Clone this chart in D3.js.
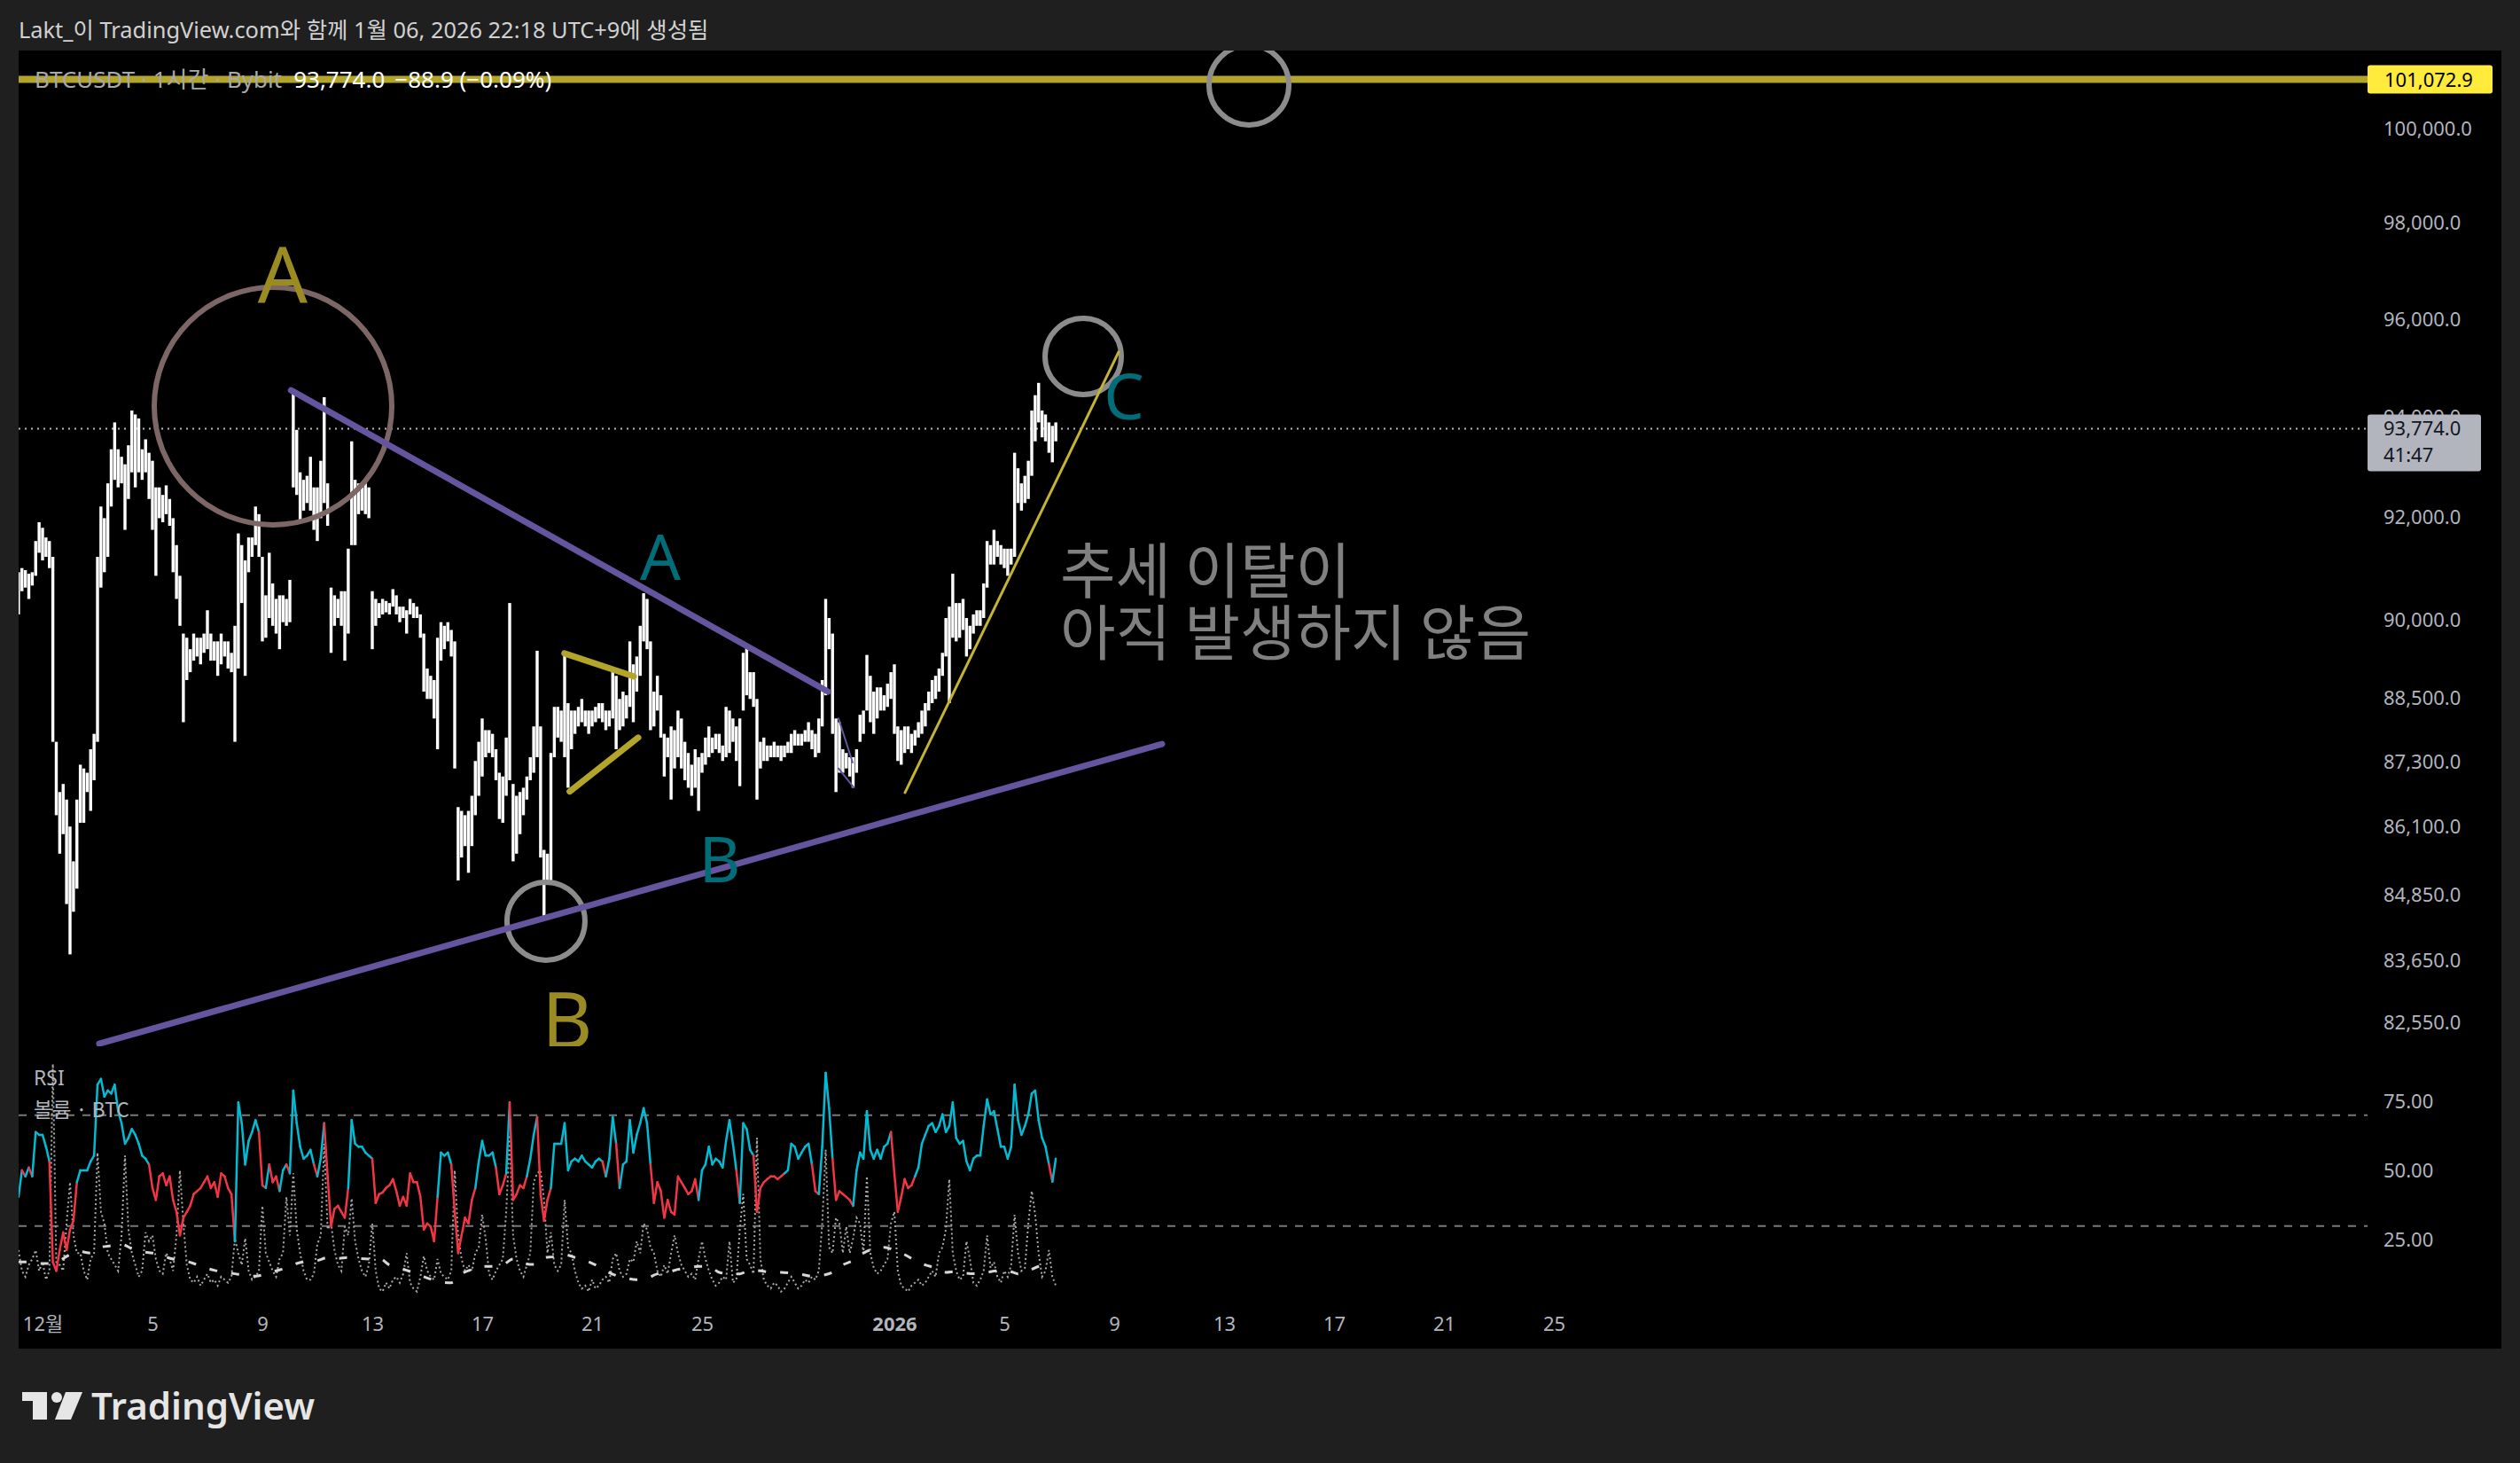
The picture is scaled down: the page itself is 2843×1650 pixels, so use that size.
<!DOCTYPE html>
<html>
<head>
<meta charset="utf-8">
<script src="https://cdn.jsdelivr.net/npm/d3@7"></script>
<style>
  html, body { margin: 0; padding: 0; background: #1f1f1f; }
  svg { display: block; }
</style>
</head>
<body>
<div id="chart"></div>
<script>
//--------------------------------------------------/
//                    DATA
//--------------------------------------------------/

// 3-hour bars, first one Nov 30 03:00
var firstBar = Date.UTC(2025, 10, 30, 3);
var barStep = 3 * 3600 * 1000;

var candleHigh = [
  90930, 91010, 90970, 90900, 90930, 91540, 91910, 91800, 91610, 91540,
  91230, 87680, 86740, 86890, 86600, 86100, 85460, 86600, 87250, 87180,
  87100, 87540, 87830, 91230, 92220, 91990, 92680, 93360, 93900, 93360,
  93210, 93060, 93440, 94140, 94060, 93980, 93360, 93560, 93290, 93130,
  92600, 92600, 92450, 92640, 92370, 91990, 91460, 90860, 89740, 89660,
  89440, 89740, 89660, 89660, 89740, 90190, 89740, 89590, 89590, 89740,
  89590, 89590, 89370, 89890, 91690, 91460, 91160, 91610, 91610, 92220,
  92070, 91230, 90480, 91310, 90710, 90410, 90480, 90480, 90410, 90780,
  94520, 93750, 92900, 92750, 92830, 93210, 92600, 92600, 93130, 94410,
  92680, 90630, 90480, 90410, 90560, 90560, 91390, 93520, 92750, 92680,
  92600, 92680, 92600, 90560, 90410, 90330, 90410, 90370, 90330, 90600,
  90480, 90260, 90260, 90190, 90410, 90330, 90260, 90110, 89740, 89070,
  88930, 88850, 89660, 89960, 89890, 89960, 89810, 89590, 86460, 86390,
  86310, 86390, 86670, 87320, 87680, 88120, 87900, 87900, 87830, 87540,
  87100, 87030, 87760, 90330, 86890, 86670, 86740, 86820, 87030, 87390,
  87970, 89410, 87970, 85670, 85600, 87470, 88340, 88340, 88270, 89370,
  88410, 88270, 88270, 88340, 88490, 88270, 88270, 88270, 88340, 88410,
  88410, 88270, 88270, 89000, 88930, 88490, 88630, 88560, 89590, 89150,
  89300, 89890, 90520, 90410, 89590, 88630, 88930, 88560, 87830, 87760,
  87970, 87900, 88270, 88120, 87680, 87470, 87250, 87540, 87390, 87470,
  87760, 87970, 87760, 87830, 87830, 87610, 88340, 88270, 88120, 87970,
  88120, 89370, 89520, 89000, 89000, 88490, 87680, 87760, 87610, 87610,
  87680, 87610, 87610, 87610, 87680, 87830, 87900, 87830, 87830, 87900,
  88050, 87900, 87830, 88120, 88850, 90410, 90040, 89740, 88120, 88050,
  87540, 87470, 87390, 87390, 87540, 88190, 88270, 89330, 88930, 88630,
  88710, 88710, 88560, 88780, 89000, 89150, 87970, 87900, 87970, 87970,
  87830, 87900, 88050, 88270, 88410, 88630, 88850, 88930, 89070, 89370,
  90040, 90260, 90900, 90330, 90330, 90410, 90040, 89890, 90110, 90190,
  90190, 90710, 91540, 91460, 91760, 91540, 91460, 91390, 91390, 91390,
  93290, 92980, 92680, 92830, 93130, 94140, 94450, 94700, 94140, 94060,
  93900, 93830, 93900
];

var candleLow = [
  90110, 90560, 90630, 90410, 90670, 90860, 91310, 91160, 91230, 91010,
  87680, 86310, 85600, 85960, 84680, 83770, 84540, 84960, 86170, 86170,
  86740, 86390, 86960, 87680, 90630, 90930, 91230, 92220, 92750, 92600,
  92680, 91760, 92370, 92900, 92600, 92900, 92750, 92900, 92370, 91760,
  90860, 91990, 91910, 92070, 91840, 90930, 90410, 89890, 88050, 88850,
  89000, 89220, 89300, 89150, 89370, 89440, 89220, 89220, 88930, 89150,
  89300, 89070, 89000, 87680, 89070, 90330, 88930, 90930, 91230, 91460,
  91230, 89590, 89660, 90040, 89890, 89740, 89440, 89960, 89890, 89960,
  92600, 92450, 91910, 92140, 92290, 92140, 91760, 91540, 91990, 92290,
  91840, 89370, 89890, 90040, 89890, 89220, 89740, 91460, 91460, 92070,
  92140, 92070, 91990, 89440, 89890, 90040, 90110, 90150, 90110, 90260,
  90110, 89960, 90040, 89740, 90110, 90040, 90040, 89660, 88630, 88490,
  88490, 88120, 87540, 89220, 89440, 89590, 89300, 87180, 85110, 85530,
  85740, 85250, 85740, 86310, 86670, 87030, 87390, 87470, 87390, 86960,
  86240, 86170, 86670, 86960, 85460, 85600, 85960, 86310, 86600, 86960,
  87100, 87390, 85530, 84400, 85030, 85110, 87390, 87760, 87680, 87390,
  86820, 87540, 87830, 87970, 88050, 87970, 87830, 87970, 88050, 88120,
  88050, 87900, 87970, 88120, 87540, 87900, 87970, 88120, 88340, 88050,
  88630, 88930, 89590, 89440, 87900, 87970, 88270, 87760, 87030, 87390,
  86600, 87180, 87390, 87180, 86960, 86820, 86670, 86820, 86390, 87100,
  87250, 87390, 87470, 87540, 87470, 87320, 87390, 87470, 87680, 87320,
  86850, 88270, 88560, 88490, 88340, 86600, 87180, 87320, 87320, 87390,
  87390, 87390, 87320, 87390, 87470, 87470, 87610, 87610, 87610, 87680,
  87680, 87540, 87390, 87470, 87970, 88560, 89440, 87830, 86740, 87100,
  87100, 87180, 87030, 86820, 87100, 87680, 87830, 88270, 88050, 87830,
  88120, 88270, 88270, 88340, 88490, 87830, 87320, 87250, 87470, 87540,
  87470, 87610, 87760, 87830, 87970, 88270, 88410, 88490, 88630, 88930,
  89300, 88410, 89660, 89590, 89660, 89810, 89300, 89440, 89740, 89890,
  89890, 90040, 90630, 91080, 91080, 91230, 91080, 91010, 90860, 91080,
  91230, 92290, 92140, 92290, 92370, 92830, 93520, 93900, 93600, 93520,
  93290, 93100, 93520
];

var rsiValues = [
  40.5, 50.1, 47.9, 51.1, 47.9, 63.9, 62.9, 62.9, 58.6, 53.3,
  17.0, 13.8, 21.3, 27.7, 21.3, 28.7, 31.9, 45.8, 50.1, 50.1,
  50.1, 53.3, 55.4, 81.0, 83.1, 76.7, 78.9, 77.8, 81.0, 71.4,
  67.1, 59.7, 61.8, 65.0, 62.9, 59.7, 55.4, 54.3, 52.2, 43.7,
  39.4, 47.9, 49.0, 44.7, 47.9, 39.4, 35.1, 26.6, 33.0, 35.1,
  37.3, 41.5, 42.6, 43.7, 45.8, 47.9, 43.7, 45.8, 40.5, 49.0,
  47.9, 43.7, 41.5, 24.5, 74.6, 67.1, 52.2, 60.7, 63.9, 68.2,
  63.9, 44.7, 43.7, 52.2, 45.8, 47.9, 42.6, 50.1, 52.2, 49.0,
  78.9, 67.1, 58.6, 54.3, 55.4, 57.5, 52.2, 47.9, 54.3, 67.1,
  47.9, 29.8, 36.2, 37.3, 35.1, 33.0, 43.7, 68.2, 59.7, 58.6,
  58.6, 56.5, 55.4, 54.3, 38.3, 41.5, 42.1, 43.7, 44.7, 46.9,
  42.6, 37.3, 40.5, 37.3, 49.0, 45.8, 45.8, 40.5, 28.7, 30.9,
  29.8, 24.5, 40.5, 56.5, 55.4, 56.5, 52.2, 35.1, 20.2, 26.6,
  33.0, 30.9, 39.4, 43.7, 53.3, 60.7, 55.4, 55.4, 56.5, 51.1,
  41.5, 44.7, 49.0, 74.6, 39.4, 41.5, 44.7, 43.7, 47.9, 54.3,
  62.9, 69.3, 41.5, 31.9, 39.4, 43.7, 59.7, 59.7, 59.7, 67.1,
  50.1, 53.3, 54.3, 53.3, 55.4, 53.3, 52.2, 51.1, 53.3, 54.3,
  53.3, 47.9, 54.3, 69.3, 59.7, 43.7, 52.2, 53.3, 68.2, 56.5,
  62.9, 67.1, 72.5, 67.1, 52.2, 38.3, 45.8, 42.6, 33.0, 39.4,
  35.1, 34.1, 47.9, 45.8, 43.7, 41.5, 42.6, 46.9, 39.4, 50.1,
  52.2, 58.6, 52.2, 54.3, 53.3, 51.1, 60.7, 68.2, 59.7, 50.1,
  38.3, 67.1, 65.0, 57.5, 55.4, 35.1, 43.7, 45.8, 46.9, 47.9,
  47.9, 46.9, 47.9, 49.0, 50.1, 59.7, 58.6, 54.3, 56.5, 58.6,
  59.7, 52.2, 42.6, 41.5, 58.6, 85.3, 72.5, 54.3, 39.4, 42.6,
  41.5, 40.5, 39.4, 37.3, 50.1, 56.5, 54.3, 71.4, 57.5, 54.3,
  57.5, 54.3, 58.6, 59.7, 63.9, 49.0, 35.1, 40.5, 46.9, 43.7,
  44.7, 47.9, 51.1, 59.7, 62.9, 66.1, 67.1, 63.9, 66.1, 70.3,
  63.9, 66.1, 74.6, 61.8, 59.7, 60.7, 53.3, 50.1, 54.3, 55.4,
  55.4, 66.1, 75.7, 70.3, 71.4, 65.0, 58.6, 58.6, 54.3, 58.6,
  81.0, 68.2, 62.9, 66.1, 70.3, 77.8, 78.9, 68.2, 61.8, 58.6,
  52.2, 46.0, 54.3
];

// volume (BTC) per bar
var volValues = [
  1120, 630, 490, 770, 910, 1120, 630, 840, 420, 630,
  5530, 840, 770, 630, 1750, 2730, 1470, 1050, 1050, 630,
  420, 910, 1050, 3430, 2030, 1750, 1050, 910, 770, 630,
  1470, 3360, 1610, 1050, 770, 490, 630, 1540, 1330, 1470,
  910, 630, 560, 1050, 910, 630, 1470, 3010, 1750, 770,
  420, 350, 490, 280, 420, 560, 350, 420, 280, 490,
  420, 350, 490, 1400, 1050, 770, 1400, 630, 420, 490,
  630, 2170, 1050, 840, 630, 490, 910, 1050, 2380, 1470,
  2940, 1610, 1050, 630, 420, 420, 560, 1260, 1470, 3640,
  1610, 1750, 1120, 770, 630, 1680, 1470, 2345, 1330, 910,
  630, 490, 770, 1750, 630, 210, 140, 350, 210, 420,
  490, 350, 560, 1050, 350, 210, 140, 490, 980, 630,
  490, 420, 910, 560, 490, 420, 630, 3010, 1470, 910,
  630, 770, 630, 1050, 1190, 1960, 1400, 560, 420, 630,
  770, 910, 2030, 3850, 1470, 910, 630, 490, 770, 1050,
  2730, 2940, 3010, 2310, 1050, 1540, 770, 630, 770, 2310,
  1190, 1050, 630, 350, 210, 280, 140, 420, 210, 280,
  420, 490, 350, 910, 1050, 630, 490, 560, 910, 840,
  1330, 1050, 1750, 1610, 1190, 1050, 630, 490, 770, 560,
  1050, 1470, 1050, 770, 630, 490, 560, 420, 910, 1330,
  910, 630, 420, 280, 350, 490, 420, 1330, 350, 420,
  1610, 2450, 910, 770, 560, 3780, 910, 420, 280, 210,
  350, 280, 140, 210, 350, 490, 350, 210, 280, 420,
  350, 490, 420, 630, 1750, 3500, 1190, 1050, 1890, 1750,
  1050, 1680, 1050, 1400, 1890, 1750, 1050, 2870, 1050, 700,
  560, 630, 770, 910, 1750, 2030, 630, 280, 210, 140,
  280, 350, 420, 280, 350, 490, 630, 490, 1050, 1190,
  1610, 2800, 1050, 630, 420, 490, 1330, 910, 350, 280,
  420, 630, 1470, 700, 840, 490, 350, 630, 490, 770,
  1960, 1050, 630, 700, 1750, 2520, 1960, 1050, 490, 630,
  1120, 490, 280
];

// volume moving average, one point every 9 hours
var volMA = [
  840, 840, 805, 805, 875, 1015, 1085, 1050, 1190, 1225,
  1260, 1155, 1085, 1050, 980, 910, 875, 805, 714, 644,
  595, 560, 525, 504, 560, 630, 700, 805, 854, 875,
  945, 924, 945, 924, 910, 924, 770, 700, 616, 525,
  434, 364, 350, 560, 665, 735, 735, 770, 910, 805,
  784, 945, 966, 1015, 945, 875, 770, 630, 518, 455,
  420, 455, 560, 595, 665, 700, 735, 735, 595, 560,
  560, 644, 630, 595, 595, 574, 546, 504, 525, 595,
  770, 875, 1050, 1155, 1190, 1120, 1015, 875, 770, 700,
  595, 616, 574, 560, 595, 630, 630, 560, 630, 735,
  784
];

var lastPrice = 93774.0;
var alertPrice = 101072.9;

var priceTicks = [82550, 83650, 84850, 86100, 87300, 88500, 90000, 92000, 94000, 96000, 98000, 100000];
var rsiTicks = [25, 50, 75];
var rsiBands = [30, 70];
var dayTicks = [
  Date.UTC(2025, 11, 1), Date.UTC(2025, 11, 5), Date.UTC(2025, 11, 9), Date.UTC(2025, 11, 13),
  Date.UTC(2025, 11, 17), Date.UTC(2025, 11, 21), Date.UTC(2025, 11, 25), Date.UTC(2026, 0, 1),
  Date.UTC(2026, 0, 5), Date.UTC(2026, 0, 9), Date.UTC(2026, 0, 13), Date.UTC(2026, 0, 17),
  Date.UTC(2026, 0, 21), Date.UTC(2026, 0, 25)
];

// drawings on the chart, in [time, price]
var trendUpper = [[Date.UTC(2025, 11, 10, 1), 94550], [Date.UTC(2025, 11, 29, 14), 88630]];
var trendLower = [[Date.UTC(2025, 11, 3, 1, 30), 82180], [Date.UTC(2026, 0, 10, 17, 48), 87640]];
var trendC = [[Date.UTC(2026, 0, 1, 9, 18), 86730], [Date.UTC(2026, 0, 9, 3, 54), 95330]];
var wedgeTop = [[Date.UTC(2025, 11, 19, 23, 48), 89360], [Date.UTC(2025, 11, 22, 12, 24), 88920]];
var wedgeBottom = [[Date.UTC(2025, 11, 20, 4, 24), 86750], [Date.UTC(2025, 11, 22, 16, 18), 87760]];
var smallTop = [[Date.UTC(2025, 11, 29, 23, 12), 88120], [Date.UTC(2025, 11, 30, 11, 36), 87290]];
var smallBottom = [[Date.UTC(2025, 11, 29, 23, 12), 87180], [Date.UTC(2025, 11, 30, 12, 24), 86830]];

var circles = [
  {t: Date.UTC(2025, 11, 9, 9, 18), p: 94230, r: 134, c: "#7c6666"},
  {t: Date.UTC(2025, 11, 19, 7, 42), p: 84370, r: 44, c: "#8c8c8c"},
  {t: Date.UTC(2026, 0, 7, 20, 54), p: 95240, r: 43, c: "#8c8c8c"},
  {t: Date.UTC(2026, 0, 13, 21, 42), p: 100950, r: 45, c: "#8c8c8c"}
];

var waveLabels = [
  {t: Date.UTC(2025, 11, 9, 17, 48), p: 96350, s: "A", c: "#9a8c22", size: 88},
  {t: Date.UTC(2025, 11, 20, 2, 18), p: 82100, s: "B", c: "#9a8c22", size: 88},
  {t: Date.UTC(2025, 11, 23, 11, 36), p: 90780, s: "A", c: "#006d78", size: 72},
  {t: Date.UTC(2025, 11, 25, 15, 30), p: 85080, s: "B", c: "#006d78", size: 72},
  {t: Date.UTC(2026, 0, 9, 8, 30), p: 93960, s: "C", c: "#006d78", size: 72}
];
var noteAnchor = {t: Date.UTC(2026, 0, 7, 0, 48), p: 90520};
var noteLines = ["추세 이탈이", "아직 발생하지 않음"];

//--------------------------------------------------/
//                    LAYOUT
//--------------------------------------------------/
var W = 2843, H = 1650;
var panel = {left: 21, right: 2822, top: 57, bottom: 1521};
var plotRight = 2671;
var pricePane = {top: 57, bottom: 1180};
var rsiPane = {top: 1182, bottom: 1470};
var latin = "'Noto Sans', 'Noto Sans CJK KR', sans-serif";
var korean = "'Noto Sans CJK KR', 'Noto Sans', sans-serif";

var svg = d3.select("#chart")
  .append("svg")
    .attr("width", W)
    .attr("height", H);

svg.append("rect").attr("width", W).attr("height", H).attr("fill", "#1f1f1f");
svg.append("rect")
  .attr("x", panel.left).attr("y", panel.top)
  .attr("width", panel.right - panel.left).attr("height", panel.bottom - panel.top)
  .attr("fill", "#000");

var defs = svg.append("defs");
defs.append("clipPath").attr("id", "clipPrice")
  .append("rect").attr("x", panel.left).attr("y", pricePane.top)
  .attr("width", plotRight - panel.left).attr("height", pricePane.bottom - pricePane.top);
defs.append("clipPath").attr("id", "clipRsi")
  .append("rect").attr("x", panel.left).attr("y", rsiPane.top)
  .attr("width", plotRight - panel.left).attr("height", rsiPane.bottom - rsiPane.top);

//************* scales ***************/
var x = d3.scaleUtc()
  .domain([Date.UTC(2025, 11, 1), Date.UTC(2026, 0, 1)])
  .range([48, 1009]);

var y = d3.scaleLog()
  .domain([82550, 100000])
  .range([1153.5, 145.6]);

var yRsi = d3.scaleLinear().domain([30, 70]).range([1382.7, 1257.7]);
var yVol = d3.scaleLinear().domain([0, 6000]).range([1463.3, 1177.6]);

function barTime(i) { return firstBar + i * barStep; }
function px(d) { return [x(d[0]), y(d[1])]; }

//************* price pane ***************/
var priceG = svg.append("g").attr("clip-path", "url(#clipPrice)");

// current price dotted line
priceG.append("line")
  .attr("x1", panel.left).attr("x2", plotRight)
  .attr("y1", y(lastPrice)).attr("y2", y(lastPrice))
  .attr("stroke", "#b8b8b8").attr("stroke-width", 2)
  .attr("stroke-dasharray", "2,5");

// candles (high-low bars)
priceG.selectAll("rect.bar")
  .data(candleHigh)
  .enter()
  .append("rect")
    .attr("class", "bar")
    .attr("x", function(d, i) { return x(barTime(i)) - 1.7; })
    .attr("width", 3.4)
    .attr("y", function(d) { return y(d); })
    .attr("height", function(d, i) { return Math.max(1.5, y(candleLow[i]) - y(d)); })
    .attr("fill", "#ffffff");

// alert line
priceG.append("line")
  .attr("x1", panel.left).attr("x2", plotRight)
  .attr("y1", y(alertPrice)).attr("y2", y(alertPrice))
  .attr("stroke", "#b3a52a").attr("stroke-width", 8);

// circles
priceG.selectAll("circle.mark")
  .data(circles)
  .enter()
  .append("circle")
    .attr("cx", function(d) { return x(d.t); })
    .attr("cy", function(d) { return y(d.p); })
    .attr("r", function(d) { return d.r; })
    .attr("fill", "none")
    .attr("stroke", function(d) { return d.c; })
    .attr("stroke-width", 6);

// trend lines
var segs = [
  {pts: trendUpper, c: "#64559e", w: 7},
  {pts: trendLower, c: "#64559e", w: 7},
  {pts: trendC, c: "#c4b431", w: 3},
  {pts: wedgeTop, c: "#b3a52a", w: 7},
  {pts: wedgeBottom, c: "#b3a52a", w: 7},
  {pts: smallTop, c: "#64559e", w: 2},
  {pts: smallBottom, c: "#64559e", w: 2}
];
priceG.selectAll("line.trend")
  .data(segs)
  .enter()
  .append("line")
    .attr("x1", function(d) { return px(d.pts[0])[0]; })
    .attr("y1", function(d) { return px(d.pts[0])[1]; })
    .attr("x2", function(d) { return px(d.pts[1])[0]; })
    .attr("y2", function(d) { return px(d.pts[1])[1]; })
    .attr("stroke", function(d) { return d.c; })
    .attr("stroke-width", function(d) { return d.w; })
    .attr("stroke-linecap", "round");

// wave labels
priceG.selectAll("text.wave")
  .data(waveLabels)
  .enter()
  .append("text")
    .attr("x", function(d) { return x(d.t); })
    .attr("y", function(d) { return y(d.p); })
    .attr("text-anchor", "middle")
    .attr("font-family", latin)
    .attr("font-size", function(d) { return d.size + "px"; })
    .attr("fill", function(d) { return d.c; })
    .text(function(d) { return d.s; });

// note
var note = priceG.append("text")
  .attr("x", x(noteAnchor.t))
  .attr("y", y(noteAnchor.p))
  .attr("font-family", korean)
  .attr("font-size", "68px")
  .attr("fill", "#808080");
noteLines.forEach(function(s, i) {
  note.append("tspan")
    .attr("x", x(noteAnchor.t))
    .attr("dy", i === 0 ? 0 : 70)
    .text(s);
});

//************* RSI pane ***************/
var rsiG = svg.append("g").attr("clip-path", "url(#clipRsi)");

rsiG.selectAll("line.band")
  .data(rsiBands)
  .enter()
  .append("line")
    .attr("x1", panel.left).attr("x2", plotRight)
    .attr("y1", function(d) { return yRsi(d); })
    .attr("y2", function(d) { return yRsi(d); })
    .attr("stroke", "#787878").attr("stroke-width", 2)
    .attr("stroke-dasharray", "9,9");

var volLine = d3.line()
  .x(function(d, i) { return x(barTime(i)); })
  .y(function(d) { return yVol(d); });
rsiG.append("path")
  .attr("d", volLine(volValues))
  .attr("fill", "none")
  .attr("stroke", "#a9a9a9").attr("stroke-width", 2)
  .attr("stroke-dasharray", "2,3");

var maLine = d3.line()
  .curve(d3.curveMonotoneX)
  .x(function(d, k) { return x(barTime(3 * k)); })
  .y(function(d) { return yVol(d); });
rsiG.append("path")
  .attr("d", maLine(volMA))
  .attr("fill", "none")
  .attr("stroke", "#d6d6d6").attr("stroke-width", 3)
  .attr("stroke-dasharray", "9,16");

rsiG.selectAll("line.rsi")
  .data(d3.range(1, rsiValues.length))
  .enter()
  .append("line")
    .attr("x1", function(i) { return x(barTime(i - 1)); })
    .attr("y1", function(i) { return yRsi(rsiValues[i - 1]); })
    .attr("x2", function(i) { return x(barTime(i)); })
    .attr("y2", function(i) { return yRsi(rsiValues[i]); })
    .attr("stroke", function(i) { return rsiValues[i] >= 50 ? "#00bcd4" : "#f23645"; })
    .attr("stroke-width", 2.5)
    .attr("stroke-linecap", "round");

svg.append("text")
  .attr("x", 38).attr("y", 1224)
  .attr("font-family", latin).attr("font-size", "23px").attr("fill", "#b2b5be")
  .text("RSI");
svg.append("text")
  .attr("x", 38).attr("y", 1260)
  .attr("font-family", korean).attr("font-size", "23px").attr("fill", "#b2b5be")
  .text("볼륨 · BTC");

//***************** axes *******************/
var priceAxis = d3.axisRight(y)
  .tickValues(priceTicks)
  .tickFormat(d3.format(",.1f"))
  .tickSize(0).tickPadding(0);
var gPrice = svg.append("g")
  .attr("transform", "translate(2689,0)")
  .call(priceAxis);

var rsiAxis = d3.axisRight(yRsi)
  .tickValues(rsiTicks)
  .tickFormat(d3.format(".2f"))
  .tickSize(0).tickPadding(0);
var gRsi = svg.append("g")
  .attr("transform", "translate(2689,0)")
  .call(rsiAxis);

var timeAxis = d3.axisBottom(x)
  .tickValues(dayTicks)
  .tickFormat(function(d) {
    var dt = new Date(d);
    if (dt.getUTCDate() === 1) return dt.getUTCMonth() === 0 ? String(dt.getUTCFullYear()) : (dt.getUTCMonth() + 1) + "월";
    return dt.getUTCDate();
  })
  .tickSize(0).tickPadding(0);
var gTime = svg.append("g")
  .attr("transform", "translate(0,1485)")
  .call(timeAxis);
gTime.selectAll("text")
  .attr("font-weight", function(d) { return new Date(d).getUTCMonth() === 0 && new Date(d).getUTCDate() === 1 ? 700 : 400; });

[gPrice, gRsi, gTime].forEach(function(g) {
  g.select(".domain").remove();
  g.attr("font-family", latin).attr("font-size", 22).style("color", "#b2b5be");
});

// last price tag
var tag = svg.append("g");
tag.append("rect")
  .attr("x", 2671).attr("y", y(lastPrice) - 16)
  .attr("width", 128).attr("height", 64).attr("rx", 3)
  .attr("fill", "#b2b5be");
tag.append("text")
  .attr("x", 2689).attr("y", y(lastPrice) + 8)
  .attr("font-family", latin).attr("font-size", "22px").attr("fill", "#131722")
  .text(d3.format(",.1f")(lastPrice));
tag.append("text")
  .attr("x", 2689).attr("y", y(lastPrice) + 38)
  .attr("font-family", latin).attr("font-size", "22px").attr("fill", "#131722")
  .text("41:47");

// alert price tag
svg.append("rect")
  .attr("x", 2671).attr("y", y(alertPrice) - 16)
  .attr("width", 141).attr("height", 32).attr("rx", 3)
  .attr("fill", "#ffeb3b");
svg.append("text")
  .attr("x", 2690).attr("y", y(alertPrice) + 8)
  .attr("font-family", latin).attr("font-size", "22px").attr("fill", "#000")
  .text(d3.format(",.1f")(alertPrice));

//***************** header / legend *******************/
svg.append("text")
  .attr("x", 21).attr("y", 43)
  .attr("font-family", latin).attr("font-size", "25.4px").attr("fill", "#d1d1d1")
  .text("Lakt_이 TradingView.com와 함께 1월 06, 2026 22:18 UTC+9에 생성됨");

var legend = svg.append("text")
  .attr("x", 39).attr("y", 99)
  .attr("font-family", latin).attr("font-size", "26px");
legend.append("tspan").attr("fill", "#a9a9a9").text("BTCUSDT · 1시간 · Bybit");
legend.append("tspan").attr("fill", "#ffffff").attr("dx", 13).text(d3.format(",.1f")(lastPrice));
legend.append("tspan").attr("fill", "#ffffff").attr("dx", 11).text("−88.9 (−0.09%)");

//***************** logo *******************/
var logo = svg.append("g").attr("fill", "#e6e6e6");
logo.append("rect").attr("x", 25).attr("y", 1570).attr("width", 28).attr("height", 10);
logo.append("rect").attr("x", 37).attr("y", 1570).attr("width", 16).attr("height", 31);
logo.append("circle").attr("cx", 64).attr("cy", 1576).attr("r", 6);
logo.append("path").attr("d", "M74,1570 L93,1570 L80,1601 L62,1601 Z");
logo.append("text")
  .attr("x", 103).attr("y", 1601)
  .attr("font-family", latin).attr("font-size", "42px").attr("font-weight", 600)
  .text("TradingView");
</script>
</body>
</html>
